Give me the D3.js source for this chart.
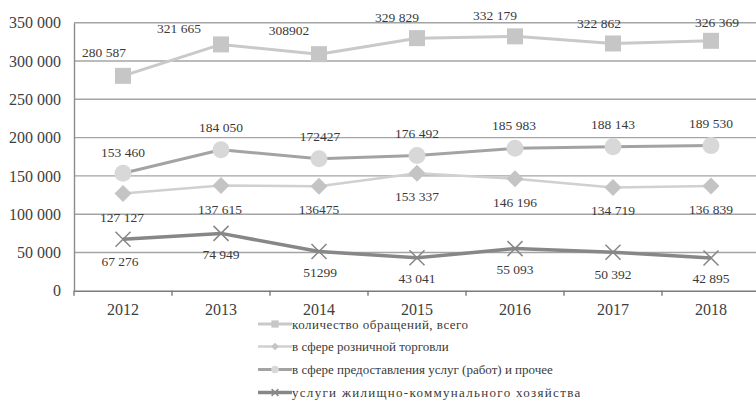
<!DOCTYPE html>
<html>
<head>
<meta charset="utf-8">
<script src="https://cdn.jsdelivr.net/npm/d3@7"></script>
<style>
body { margin: 0; background: #fff; }
svg { display: block; }
</style>
</head>
<body>
<script>
var years = ["2012", "2013", "2014", "2015", "2016", "2017", "2018"];
var yTicks = [0, 50000, 100000, 150000, 200000, 250000, 300000, 350000];
var yTickLabels = ["0", "50 000", "100 000", "150 000", "200 000", "250 000", "300 000", "350 000"];
var seriesNames = [
    "количество обращений, всего",
    "в сфере розничной торговли",
    "в сфере предоставления услуг (работ) и прочее",
    "услуги жилищно-коммунального хозяйства"
];
var totalValues = [280587, 321665, 308902, 329829, 332179, 322862, 326369];
var totalLabels = ["280 587", "321 665", "308902", "329 829", "332 179", "322 862", "326 369"];
var retailValues = [127127, 137615, 136475, 153337, 146196, 134719, 136839];
var retailLabels = ["127 127", "137 615", "136475", "153 337", "146 196", "134 719", "136 839"];
var serviceValues = [153460, 184050, 172427, 176492, 185983, 188143, 189530];
var serviceLabels = ["153 460", "184 050", "172427", "176 492", "185 983", "188 143", "189 530"];
var housingValues = [67276, 74949, 51299, 43041, 55093, 50392, 42895];
var housingLabels = ["67 276", "74 949", "51299", "43 041", "55 093", "50 392", "42 895"];

//label offsets from the point (dx, dy of the text middle)
var totalOffsets = [[-19, -24], [-42, -16], [-30, -24], [-20, -21], [-20, -21], [-14, -20], [6, -19]];
var retailOffsets = [[-1, 24], [-1, 24], [0, 23], [0, 23], [0, 23], [0, 23], [0, 23]];
var serviceOffsets = [[0, -21], [0, -23], [1, -22], [0, -22], [-1, -23], [0, -22], [0, -22]];
var housingOffsets = [[-3, 22], [0, 21], [1, 21], [0, 20], [0, 21], [0, 22], [0, 20]];

var series = [
    {name: seriesNames[0], values: totalValues, labels: totalLabels, offsets: totalOffsets,
     line: "#c9c9c9", lw: 3, marker: "square", mfill: "#c6c6c6", spacing: 0.5},
    {name: seriesNames[1], values: retailValues, labels: retailLabels, offsets: retailOffsets,
     line: "#d0d0d0", lw: 2.5, marker: "diamond", mfill: "#c4c4c4", spacing: 0},
    {name: seriesNames[2], values: serviceValues, labels: serviceLabels, offsets: serviceOffsets,
     line: "#a3a3a3", lw: 3, marker: "circle", mfill: "#d8d8d8", spacing: 0},
    {name: seriesNames[3], values: housingValues, labels: housingLabels, offsets: housingOffsets,
     line: "#878787", lw: 3.5, marker: "cross", mfill: "#878787", spacing: 1.3}
];

var width = 756, height = 401;
var plotLeft = 74, plotRight = 760, plotTop = 22.7, plotBottom = 290.8;
var serif = "Liberation Serif";

var svg = d3.select("body").append("svg")
    .attr("width", width)
    .attr("height", height)
    .style("font-family", "'Liberation Serif', serif");

var x = d3.scaleBand()
    .domain(years)
    .range([plotLeft, plotRight]);

var y = d3.scaleLinear()
    .domain([0, 350000])
    .range([plotBottom, plotTop]);

//gridlines
svg.append("g")
    .selectAll("line")
    .data(yTicks.slice(1))
    .enter()
    .append("line")
    .attr("x1", plotLeft)
    .attr("x2", plotRight)
    .attr("y1", function(d){ return y(d); })
    .attr("y2", function(d){ return y(d); })
    .attr("stroke", "#a4a4a4")
    .attr("stroke-width", 1.4);

//y axis
var yAxis = d3.axisLeft(y)
    .tickValues(yTicks)
    .tickSize(0)
    .tickPadding(13)
    .tickFormat(function(d, i){ return yTickLabels[i]; });
var ya = svg.append("g")
    .attr("transform", "translate(" + plotLeft + ",0)")
    .call(yAxis)
    .attr("font-family", serif)
    .attr("font-size", 16);
ya.select(".domain").attr("stroke", "#8c8c8c").attr("stroke-width", 1.4);
ya.selectAll("text").attr("fill", "#404040").attr("font-family", serif);

//x axis
var xAxis = d3.axisBottom(x)
    .tickSize(0)
    .tickPadding(13);
var xa = svg.append("g")
    .attr("transform", "translate(0," + plotBottom + ")")
    .call(xAxis)
    .attr("font-family", serif)
    .attr("font-size", 16);
xa.select(".domain").attr("stroke", "#7a7a7a").attr("stroke-width", 1.6);
xa.selectAll("text").attr("fill", "#404040").attr("font-family", serif);

//tick marks between categories
svg.append("g")
    .selectAll("line")
    .data(years)
    .enter()
    .append("line")
    .attr("x1", function(d){ return x(d); })
    .attr("x2", function(d){ return x(d); })
    .attr("y1", plotBottom)
    .attr("y2", plotBottom + 5)
    .attr("stroke", "#7a7a7a")
    .attr("stroke-width", 1.4);

function drawMarker(g, type, fill, size){
    if (type === "square") {
        g.append("rect").attr("x", -size / 2).attr("y", -size / 2)
            .attr("width", size).attr("height", size).attr("fill", fill);
    } else if (type === "diamond") {
        var s = size / 2;
        g.append("path").attr("d", "M0," + (-s) + "L" + s + ",0L0," + s + "L" + (-s) + ",0Z")
            .attr("fill", fill);
    } else if (type === "circle") {
        g.append("circle").attr("r", size / 2).attr("fill", fill);
    } else {
        var c = size / 2;
        g.append("path").attr("d", "M" + (-c) + "," + (-c) + "L" + c + "," + c + "M" + c + "," + (-c) + "L" + (-c) + "," + c)
            .attr("stroke", fill).attr("stroke-width", 1.5).attr("fill", "none");
    }
}

var markerSize = {square: 16, diamond: 17, circle: 17, cross: 15};

var line = d3.line()
    .x(function(d, i){ return x(years[i]) + x.bandwidth() / 2; })
    .y(function(d){ return y(d); });

//draw series (housing first, total last)
series.slice().reverse().forEach(function(s){
    svg.append("path")
        .datum(s.values)
        .attr("d", line)
        .attr("fill", "none")
        .attr("stroke", s.line)
        .attr("stroke-width", s.lw)
        .attr("stroke-linejoin", "round");
    s.values.forEach(function(v, i){
        var g = svg.append("g")
            .attr("transform", "translate(" + (x(years[i]) + x.bandwidth() / 2) + "," + y(v) + ")");
        drawMarker(g, s.marker, s.mfill, markerSize[s.marker]);
    });
});

//data labels
series.forEach(function(s){
    svg.append("g")
        .selectAll("text")
        .data(s.values)
        .enter()
        .append("text")
        .attr("x", function(d, i){ return x(years[i]) + x.bandwidth() / 2 + s.offsets[i][0]; })
        .attr("y", function(d, i){ return y(d) + s.offsets[i][1]; })
        .attr("dy", "0.35em")
        .attr("text-anchor", "middle")
        .attr("fill", "#3a3a3a")
        .attr("font-family", serif)
        .attr("font-size", 13.5)
        .text(function(d, i){ return s.labels[i]; });
});

//legend
var legendRows = [324, 346.5, 369.5, 392.5];
var legend = svg.append("g");
series.forEach(function(s, i){
    var row = legend.append("g")
        .attr("transform", "translate(258," + legendRows[i] + ")");
    row.append("line")
        .attr("x1", 0).attr("x2", 34)
        .attr("stroke", s.line)
        .attr("stroke-width", s.lw);
    var m = row.append("g").attr("transform", "translate(17,0)");
    drawMarker(m, s.marker, s.mfill, markerSize[s.marker] * 0.45);
    row.append("text")
        .attr("x", 34)
        .attr("dy", "0.35em")
        .attr("fill", "#3a3a3a")
        .attr("font-family", serif)
        .attr("font-size", 13)
        .attr("letter-spacing", s.spacing)
        .text(s.name);
});
</script>
</body>
</html>
